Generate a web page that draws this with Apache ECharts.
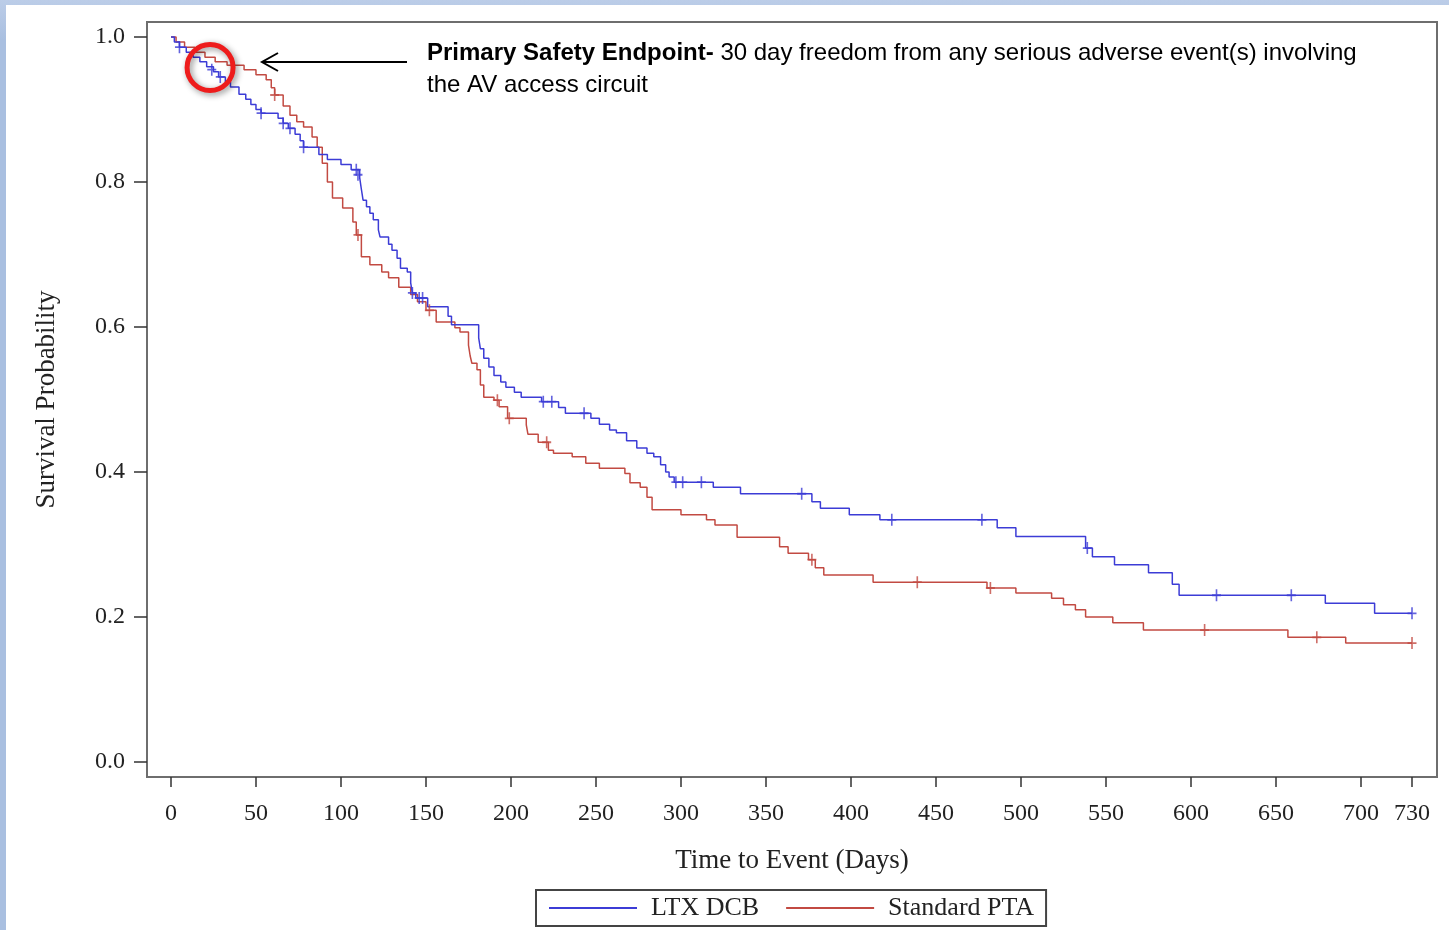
<!DOCTYPE html>
<html>
<head>
<meta charset="utf-8">
<script src="https://cdn.jsdelivr.net/npm/echarts@6.0.0/dist/echarts.min.js"></script>
<style>
html, body { margin:0; padding:0; width:1449px; height:930px; overflow:hidden;
  background: linear-gradient(#bccde8, #a9bfe0 40px); }
#chartKM { position:absolute; left:6px; top:5px; width:1443px; height:925px; background:#fff; }
</style>
</head>
<body>
<div id="chartKM"></div>
<script>
// Kaplan-Meier curves: [day, survival after the drop]
var ltxSteps = [
  [0,1.0],[2,0.993],[5,0.986],[9,0.979],[13,0.972],[17,0.966],[21,0.959],[25,0.952],[28,0.945],
  [32,0.938],[35,0.931],[40,0.921],[44,0.914],[47,0.907],[50,0.900],[53,0.895],[63,0.888],
  [66,0.881],[69,0.874],[73,0.866],[76,0.857],[78,0.848],[87,0.838],[92,0.831],[100,0.824],
  [106,0.817],[111,0.806],[112,0.790],[113,0.775],[115,0.766],[117,0.757],[119,0.748],
  [122,0.734],[123,0.724],[128,0.714],[130,0.706],[133,0.695],[135,0.681],[139,0.676],
  [141,0.661],[142,0.647],[144,0.640],[151,0.628],[163,0.615],[165,0.603],[181,0.585],
  [182,0.570],[184,0.557],[187,0.545],[190,0.533],[194,0.524],[197,0.517],[202,0.510],
  [206,0.503],[218,0.497],[228,0.489],[232,0.481],[247,0.474],[252,0.466],[258,0.458],
  [262,0.454],[268,0.443],[274,0.433],[280,0.426],[284,0.421],[288,0.410],[291,0.400],
  [293,0.393],[296,0.386],[319,0.379],[335,0.370],[377,0.359],[382,0.350],[399,0.341],
  [417,0.334],[486,0.323],[497,0.311],[538,0.295],[542,0.283],[555,0.272],[575,0.261],
  [589,0.245],[593,0.230],[679,0.219],[708,0.205],[730,0.205]
];
var ptaSteps = [
  [0,1.0],[3,0.993],[8,0.986],[14,0.979],[20,0.972],[26,0.966],[33,0.961],[43,0.955],
  [50,0.948],[56,0.941],[59,0.930],[61,0.920],[66,0.905],[70,0.892],[74,0.883],[78,0.876],
  [83,0.862],[86,0.848],[89,0.826],[92,0.800],[95,0.778],[101,0.764],[107,0.745],[109,0.727],
  [112,0.697],[117,0.686],[124,0.676],[128,0.668],[134,0.655],[141,0.645],[145,0.635],
  [150,0.623],[156,0.607],[167,0.599],[170,0.593],[175,0.575],[176,0.560],[177,0.550],
  [180,0.541],[182,0.520],[184,0.503],[190,0.499],[193,0.490],[198,0.474],[209,0.465],
  [210,0.452],[216,0.441],[222,0.430],[225,0.426],[236,0.421],[244,0.412],[252,0.405],
  [267,0.398],[270,0.385],[276,0.379],[280,0.365],[283,0.348],[300,0.341],[315,0.334],
  [320,0.327],[333,0.310],[358,0.297],[363,0.288],[375,0.279],[379,0.268],[384,0.258],
  [413,0.248],[480,0.240],[497,0.233],[518,0.226],[525,0.217],[532,0.210],[538,0.200],
  [554,0.192],[572,0.182],[657,0.172],[691,0.164],[730,0.164]
];
// censored observations
var ltxCensor = [
  [5,0.986],[24,0.955],[29,0.945],[53,0.895],[66,0.881],[70,0.874],[78,0.848],[109,0.817],
  [110,0.810],[142,0.647],[146,0.640],[148,0.640],[219,0.497],[224,0.497],[243,0.481],
  [297,0.386],[301,0.386],[312,0.386],[371,0.370],[424,0.334],[477,0.334],[539,0.295],
  [615,0.230],[659,0.230],[730,0.205]
];
var ptaCensor = [
  [61,0.920],[110,0.727],[152,0.623],[192,0.499],[199,0.474],[221,0.441],[377,0.279],
  [439,0.248],[482,0.240],[608,0.182],[674,0.172],[730,0.164]
];
var xTicks = [0,50,100,150,200,250,300,350,400,450,500,550,600,650,700,730];
var yTicks = [0,0.2,0.4,0.6,0.8,1.0];

var serif = "'Liberation Serif', 'Times New Roman', serif";
var sans = "'Liberation Sans', Arial, sans-serif";
var blue = '#3c3cd6';
var red = '#c24a42';
var plusPath = 'path://M4.1,0H5.9V5.1H10V6.9H5.9V12H4.1V6.9H0V5.1H4.1Z';

var chart_km = echarts.init(document.getElementById('chartKM'));

chart_km.setOption({
  animation: false,
  grid: {
    left: 141, top: 17, right: 12, bottom: 153,
    show: true, borderColor: '#6e6e6e', borderWidth: 2
  },
  legend: {
    left: 530, top: 885,
    data: [{name:'LTX DCB', icon:'rect'}, {name:'Standard PTA', icon:'rect'}],
    itemWidth: 88, itemHeight: 2, itemGap: 27,
    padding: [5, 12, 5, 13],
    borderColor: '#444', borderWidth: 2,
    textStyle: { fontFamily: serif, fontSize: 26, color: '#222', padding: [0,0,0,9] }
  },
  xAxis: {
    type: 'value', min: -14.1, max: 744.7,
    name: 'Time to Event (Days)', nameLocation: 'middle', nameGap: 70,
    nameTextStyle: { fontFamily: serif, fontSize: 27, color: '#222' },
    axisLine: { show: true, onZero: false, lineStyle: { color: '#6e6e6e', width: 2 } },
    axisTick: { show: true, inside: false, length: 10, customValues: xTicks, lineStyle: { color: '#333', width: 1.5 } },
    axisLabel: { customValues: xTicks, margin: 25, fontFamily: serif, fontSize: 24, color: '#222' },
    splitLine: { show: false }
  },
  yAxis: {
    type: 'value', min: -0.0207, max: 1.0207,
    name: 'Survival Probability', nameLocation: 'middle', nameGap: 87, nameRotate: 90,
    nameTextStyle: { fontFamily: serif, fontSize: 27, color: '#222' },
    axisLine: { show: true, onZero: false, lineStyle: { color: '#6e6e6e', width: 2 } },
    axisTick: { show: true, inside: false, length: 13, customValues: yTicks, lineStyle: { color: '#333', width: 1.5 } },
    axisLabel: {
      customValues: yTicks, margin: 22, fontFamily: serif, fontSize: 24, color: '#222',
      formatter: function (v) { return v.toFixed(1); }
    },
    splitLine: { show: false }
  },
  series: [
    {
      name: 'Standard PTA', type: 'line', step: 'end', data: ptaSteps,
      showSymbol: false, color: red, lineStyle: { width: 1.5, color: red }, z: 2
    },
    {
      name: 'LTX DCB', type: 'line', step: 'end', data: ltxSteps,
      showSymbol: false, color: blue, lineStyle: { width: 1.5, color: blue }, z: 3
    },
    {
      name: 'pta-censor', type: 'scatter', data: ptaCensor, symbol: plusPath,
      symbolSize: [9, 12], itemStyle: { color: red }, silent: true, z: 4
    },
    {
      name: 'ltx-censor', type: 'scatter', data: ltxCensor, symbol: plusPath,
      symbolSize: [9, 12], itemStyle: { color: blue }, silent: true, z: 4
    }
  ]
});

// annotation: circle on the 30 day point, arrow and note
var c = chart_km.convertToPixel({ gridIndex: 0 }, [23, 0.958]);
chart_km.setOption({
  graphic: [
    {
      type: 'circle', shape: { cx: c[0], cy: c[1], r: 23 },
      style: { fill: 'none', stroke: '#ee1c1c', lineWidth: 5,
        shadowBlur: 6, shadowColor: 'rgba(0,0,0,0.45)', shadowOffsetX: 2, shadowOffsetY: 2 },
      z: 100
    },
    {
      type: 'line', shape: { x1: 401, y1: 57, x2: 256, y2: 57 },
      style: { stroke: '#000', lineWidth: 2 }, z: 100
    },
    {
      type: 'polyline', shape: { points: [[272, 48], [256, 57], [272, 66]] },
      style: { stroke: '#000', lineWidth: 2, fill: 'none' }, z: 100
    },
    {
      type: 'text', left: 421, top: 36, z: 100,
      style: {
        text: '{b|Primary Safety Endpoint-}{n| 30 day freedom from any serious adverse event(s) involving}\n{n|the AV access circuit}',
        rich: {
          b: { fontFamily: sans, fontWeight: 'bold', fontSize: 24, lineHeight: 32, fill: '#000' },
          n: { fontFamily: sans, fontSize: 24, lineHeight: 32, fill: '#000' }
        }
      }
    }
  ]
});
</script>
</body>
</html>
